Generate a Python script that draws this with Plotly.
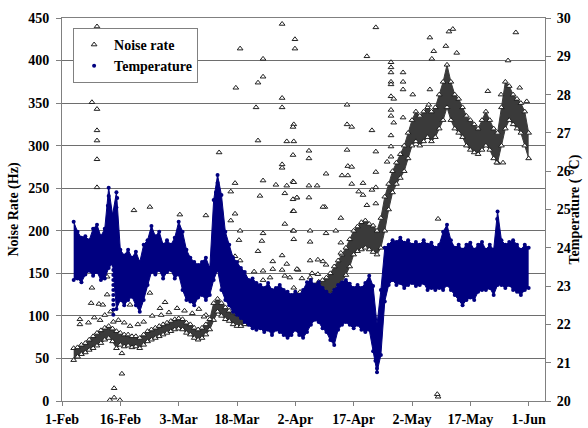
import plotly.graph_objects as go
import pandas as pd

BASE = pd.Timestamp("2009-02-01")

# ---- data (day offset from 1-Feb) ----
band_days = list(range(3, 121))

temp_hi = [24.68, 24.42, 24.26, 24.30, 24.20, 24.50, 24.60, 24.30, 24.50, 25.57,
           24.86, 25.45, 23.95, 23.80, 23.95, 23.74, 23.90, 23.63, 24.08, 24.20,
           24.57, 24.30, 24.42, 24.08, 24.20, 24.08, 24.26, 24.68, 24.42, 23.95,
           23.74, 23.63, 23.55, 23.63, 23.74, 23.47, 25.25, 25.90, 25.38, 24.42,
           24.08, 23.74, 23.63, 23.47, 23.37, 23.16, 23.20, 23.08, 23.03, 22.95,
           23.08, 22.90, 22.95, 23.03, 22.90, 22.85, 22.77, 22.85, 22.77, 22.90,
           23.10, 23.16, 23.03, 23.10, 22.95, 22.85, 22.77, 22.90, 23.03, 23.10,
           23.16, 23.06, 22.95, 23.03, 22.95, 23.08, 23.27, 23.00, 22.00, 22.90,
           24.00, 24.08, 24.20, 24.15, 24.26, 24.13, 24.20, 24.08, 24.15, 24.08,
           24.20, 24.08, 24.13, 24.00, 24.08, 24.42, 24.60, 24.20, 24.00, 24.08,
           23.95, 24.08, 24.13, 23.95, 24.08, 24.15, 23.95, 24.08, 23.95, 24.95,
           24.20, 24.08, 24.15, 24.20, 24.08, 23.95, 24.08, 24.00]

temp_lo = [23.16, 23.20, 23.10, 23.30, 23.40, 23.27, 23.37, 23.16, 23.20, 23.47,
           23.60, 22.40, 22.64, 22.50, 22.64, 22.72, 22.50, 22.33, 22.64, 23.03,
           23.37, 23.30, 23.42, 23.20, 23.37, 23.42, 23.20, 23.30, 22.90, 22.64,
           22.60, 22.50, 22.70, 22.77, 22.64, 22.77, 23.16, 23.42, 22.90, 22.64,
           22.50, 22.33, 22.25, 22.17, 22.06, 21.99, 21.90, 21.86, 21.90, 21.80,
           21.86, 21.72, 21.86, 21.80, 21.72, 21.65, 21.72, 21.86, 21.72, 21.65,
           21.80, 21.99, 22.12, 22.06, 21.90, 21.80, 21.59, 21.46, 21.86, 21.99,
           22.06, 21.99, 21.90, 21.99, 21.86, 21.80, 21.86, 21.30, 20.75, 21.20,
           22.60, 23.03, 23.16, 23.03, 23.08, 22.95, 23.03, 23.08, 23.00, 23.03,
           23.08, 22.90, 22.95, 22.90, 22.95, 22.90, 23.03, 22.90, 22.77, 22.64,
           22.50, 22.64, 22.70, 22.64, 22.85, 22.90, 22.90, 22.95, 22.77, 23.03,
           23.03, 22.95, 23.03, 22.90, 22.85, 22.77, 22.90, 22.95]

noise_lo = [48, 52, 55, 57, 60, 62, 65, 68, 72, 74,
            70, 62, 66, 64, 65, 63, 64, 62, 66, 70,
            72, 74, 76, 78, 80, 82, 84, 85, 84, 80,
            78, 74, 72, 74, 78, 84, 95, 105, 100, 96,
            94, 90, 88, 88, 90, 90, 92, 94, 94, 95,
            96, 96, 98, 98, 100, 102, 104, 106, 108, 110,
            113, 116, 118, 120, 120, 122, 125, 130, 135, 140,
            148, 158, 172, 176, 178, 180, 178, 175, 172, 180,
            200, 225, 245, 255, 262, 270, 285, 300, 305, 300,
            305, 310, 305, 310, 320, 330, 345, 330, 320, 315,
            310, 300, 295, 292, 290, 295, 300, 295, 285, 280,
            300, 320, 330, 325, 320, 315, 300, 285]

noise_hi = [62, 63, 66, 68, 72, 76, 80, 83, 86, 88,
            85, 82, 80, 78, 78, 76, 76, 74, 78, 82,
            84, 86, 88, 90, 92, 94, 96, 97, 96, 92,
            90, 86, 84, 86, 90, 96, 115, 120, 115, 110,
            106, 104, 102, 100, 102, 104, 106, 108, 108, 110,
            110, 112, 112, 114, 114, 116, 118, 120, 122, 125,
            128, 132, 136, 140, 142, 145, 150, 158, 165, 172,
            180, 190, 200, 205, 210, 212, 208, 206, 200, 215,
            240, 255, 270, 280, 290, 300, 315, 330, 340, 335,
            340, 345, 340, 345, 360, 375, 395, 375, 360, 355,
            345, 335, 330, 325, 320, 330, 340, 330, 320, 315,
            345, 375, 370, 360, 355, 350, 340, 315]

noise_out_day = [9.0, 7.7, 9.0, 9.0, 9.0, 9.0, 9.0,
                 45.8, 44.7, 51.7, 51.7, 50.4, 49.9, 50.4,
                 56.6, 59.9, 59.9, 56.6, 56.6, 59.6, 59.4, 57.8, 59.6, 59.4, 56.6, 56.6,
                 40.4, 44.5, 43.4, 51.7, 50.9, 55.0, 57.8, 57.3, 59.4, 60.4, 59.4,
                 22.6, 18.5, 30.3, 37.0, 44.5, 43.4, 45.8, 45.5, 45.8, 44.5, 51.7, 51.4, 50.4,
                 59.4, 57.3, 59.4, 56.6, 54.2, 57.8, 54.2, 56.6, 60.7, 51.7, 49.4, 53.5, 57.3, 51.7,
                 7.7, 11.6, 7.5, 9.5, 10.5, 11.6, 4.6, 14.7, 17.5, 22.6, 26.5, 29.6, 25.2, 35.2, 37.0,
                 15.4, 15.4, 13.4, 13.4, 12.3, 14.9,
                 80.7, 78.4, 84.6, 84.6, 84.6, 87.7, 84.6, 84.6, 87.7, 87.7, 84.6, 85.3, 84.6, 84.6,
                 87.7, 85.3, 84.6, 84.6, 84.6, 83.6,
                 73.3, 73.3, 74.5, 79.7, 73.3, 73.5, 74.5, 73.5, 74.5, 72.0, 67.9, 77.4, 76.3,
                 80.7, 80.7, 80.7, 79.7,
                 59.6, 63.5, 63.5, 63.5, 65.6, 60.4, 63.5, 67.6, 77.4, 78.4, 80.7,
                 94.6, 95.6, 95.1, 98.7, 99.5, 100.5, 101.5, 94.6, 94.3,
                 116.7, 114.7, 109.5, 117.7, 119.5, 112.9, 113.4, 111.8, 90.2,
                 96.7, 96.7, 96.5,
                 59.6, 59.6, 63.8, 67.9, 70.4, 59.6, 63.8, 71.7, 67.1, 71.7, 71.7, 63.8, 65.8,
                 67.1, 67.9, 60.4, 58.6, 61.7, 63.8, 64.3, 65.8, 59.6, 61.2, 62.0,
                 4.6, 6.8, 8.3, 9.8, 11.0, 12.5, 13.2,
                 14.5, 16.0, 17.5, 19.5, 21.0, 23.2, 25.5, 27.5, 31.5, 33.5, 36.5]

noise_out_val = [440, 351, 343, 318, 306, 284, 251,
                 414, 368, 402, 381, 374, 345, 306,
                 443, 425, 414, 356, 345, 325, 322, 305, 305, 289, 278, 274,
                 292, 256, 246, 259, 241, 254, 253, 244, 258, 239, 237,
                 228, 224, 219, 218, 220, 212, 200, 189, 165, 170, 197, 188, 176,
                 223, 208, 200, 171, 164, 161, 155, 154, 154, 153, 152, 145, 147, 142,
                 133, 146, 115, 114, 113, 125, 96, 121, 113, 127, 116, 109, 109, 108, 101,
                 56, 32, 15, 4, 1, 1,
                 439, 405, 398, 392, 386, 386, 375, 372, 375, 366, 358, 355, 342, 335,
                 333, 327, 312, 299, 287, 281,
                 348, 325, 322, 318, 295, 276, 275, 265, 255, 265, 267, 256, 246,
                 293, 269, 251, 248,
                 257, 294, 285, 253, 253, 239, 239, 228, 242, 230, 232,
                 427, 411, 402, 417, 434, 437, 409, 366, 348,
                 433, 400, 364, 368, 352, 360, 280, 280, 360,
                 214, 5, 8,
                 223, 200, 200, 197, 200, 190, 187, 186, 228, 215, 174, 165, 166,
                 164, 160, 155, 145, 144, 145, 150, 149, 133, 128, 115,
                 90, 92, 98, 95, 101, 105, 93,
                 95, 92, 88, 90, 93, 100, 101, 104, 106, 103, 99]

temp_out_day = [13.2, 13.2, 13.2, 13.2, 13.2, 13.2, 13.2, 13.2, 13.2, 13.2, 13.2, 13.2,
                12.0, 11.8, 14.2, 14.0, 40.0, 39.6, 81.0, 80.6, 111.9]
temp_out_val = [23.68, 23.55, 23.42, 23.29, 23.16, 23.03, 22.90, 22.77, 22.64, 22.51, 22.38, 22.25,
                25.35, 25.10, 25.30, 25.05, 25.70, 25.45, 20.85, 21.05, 24.75]

tick_days = [0, 15, 30, 45, 60, 75, 90, 105, 120]
tick_text = ["1-Feb", "16-Feb", "3-Mar", "18-Mar", "2-Apr", "17-Apr", "2-May", "17-May", "1-Jun"]
left_title = "Noise Rate (Hz)"
right_title = "Temperature ( °C)"


def to_dates(ds):
    return [BASE + pd.Timedelta(days=d) for d in ds]


bx = to_dates(band_days)
NAVY = "#000080"
NOISE_FILL = "rgb(58,58,58)"
FONT = "serif"
tri = dict(symbol="triangle-up", size=5, color="white", line=dict(color="#202020", width=1))
dot = dict(symbol="circle", size=4, color=NAVY, line=dict(width=0))

fig = go.Figure()
fig.add_trace(go.Scatter(x=bx, y=noise_lo, mode="lines+markers", marker=tri,
                         line=dict(color=NOISE_FILL, width=1), showlegend=False, hoverinfo="skip"))
fig.add_trace(go.Scatter(x=bx, y=noise_hi, mode="lines+markers", marker=tri,
                         line=dict(color=NOISE_FILL, width=1), fill="tonexty",
                         fillcolor=NOISE_FILL, showlegend=False))
fig.add_trace(go.Scatter(x=to_dates(noise_out_day), y=noise_out_val, mode="markers", marker=tri,
                         showlegend=False))
fig.add_trace(go.Scatter(x=bx, y=temp_lo, mode="lines+markers", marker=dot,
                         line=dict(color=NAVY, width=1), yaxis="y2", showlegend=False))
fig.add_trace(go.Scatter(x=bx, y=temp_hi, mode="lines+markers", marker=dot,
                         line=dict(color=NAVY, width=1), fill="tonexty",
                         fillcolor=NAVY, yaxis="y2", showlegend=False))
fig.add_trace(go.Scatter(x=to_dates(temp_out_day), y=temp_out_val, mode="markers", marker=dot,
                         yaxis="y2", showlegend=False))
fig.add_trace(go.Scatter(x=[None], y=[None], mode="markers", marker=tri, name="Noise rate"))
fig.add_trace(go.Scatter(x=[None], y=[None], mode="markers", marker=dot, name="Temperature",
                         yaxis="y2"))

tickfont = dict(family=FONT, size=14, color="black", weight="bold")
fig.update_layout(
    width=588, height=428,
    margin=dict(l=62, r=43, t=18, b=27, autoexpand=False),
    paper_bgcolor="white", plot_bgcolor="white",
    font=dict(family=FONT, size=14, color="black"),
    showlegend=True,
    legend=dict(x=0.023, y=0.974, xanchor="left", yanchor="top", traceorder="normal",
                bgcolor="white", bordercolor="#808080", borderwidth=1,
                font=dict(family=FONT, size=14, color="black", weight="bold"),
                tracegroupgap=0, itemwidth=30),
    xaxis=dict(type="date", range=[BASE, BASE + pd.Timedelta(days=124.2)],
               tickvals=to_dates(tick_days), ticktext=tick_text, tickfont=tickfont,
               ticks="outside", ticklen=4, tickcolor="#808080", ticklabelstandoff=1,
               showline=True, linecolor="#808080", linewidth=1, mirror=True,
               showgrid=False, zeroline=False, automargin=False),
    yaxis=dict(range=[0, 450], tickvals=list(range(0, 451, 50)), tickfont=tickfont,
               ticks="outside", ticklen=5, tickcolor="#808080", ticklabelstandoff=4,
               showline=True, linecolor="#808080", linewidth=1,
               showgrid=True, gridcolor="#6e6e6e", gridwidth=1, zeroline=False,
               automargin=False,
               title=dict(text=left_title, standoff=6,
                          font=dict(family=FONT, size=14, color="black", weight="bold"))),
    yaxis2=dict(range=[20, 30], tickvals=list(range(20, 31)), tickfont=tickfont,
                overlaying="y", side="right", anchor="x",
                ticks="outside", ticklen=5, tickcolor="#808080", ticklabelstandoff=3,
                showline=True, linecolor="#808080", linewidth=1,
                showgrid=False, zeroline=False, automargin=False),
    annotations=[dict(text=right_title, xref="paper", yref="paper", x=1.062, y=0.5,
                      xanchor="center", yanchor="middle", textangle=-90, showarrow=False,
                      font=dict(family=FONT, size=14, color="black", weight="bold"))],
)

fig.write_html("out.html", config={"displayModeBar": False},
               post_script="document.body.style.margin='0px';")
